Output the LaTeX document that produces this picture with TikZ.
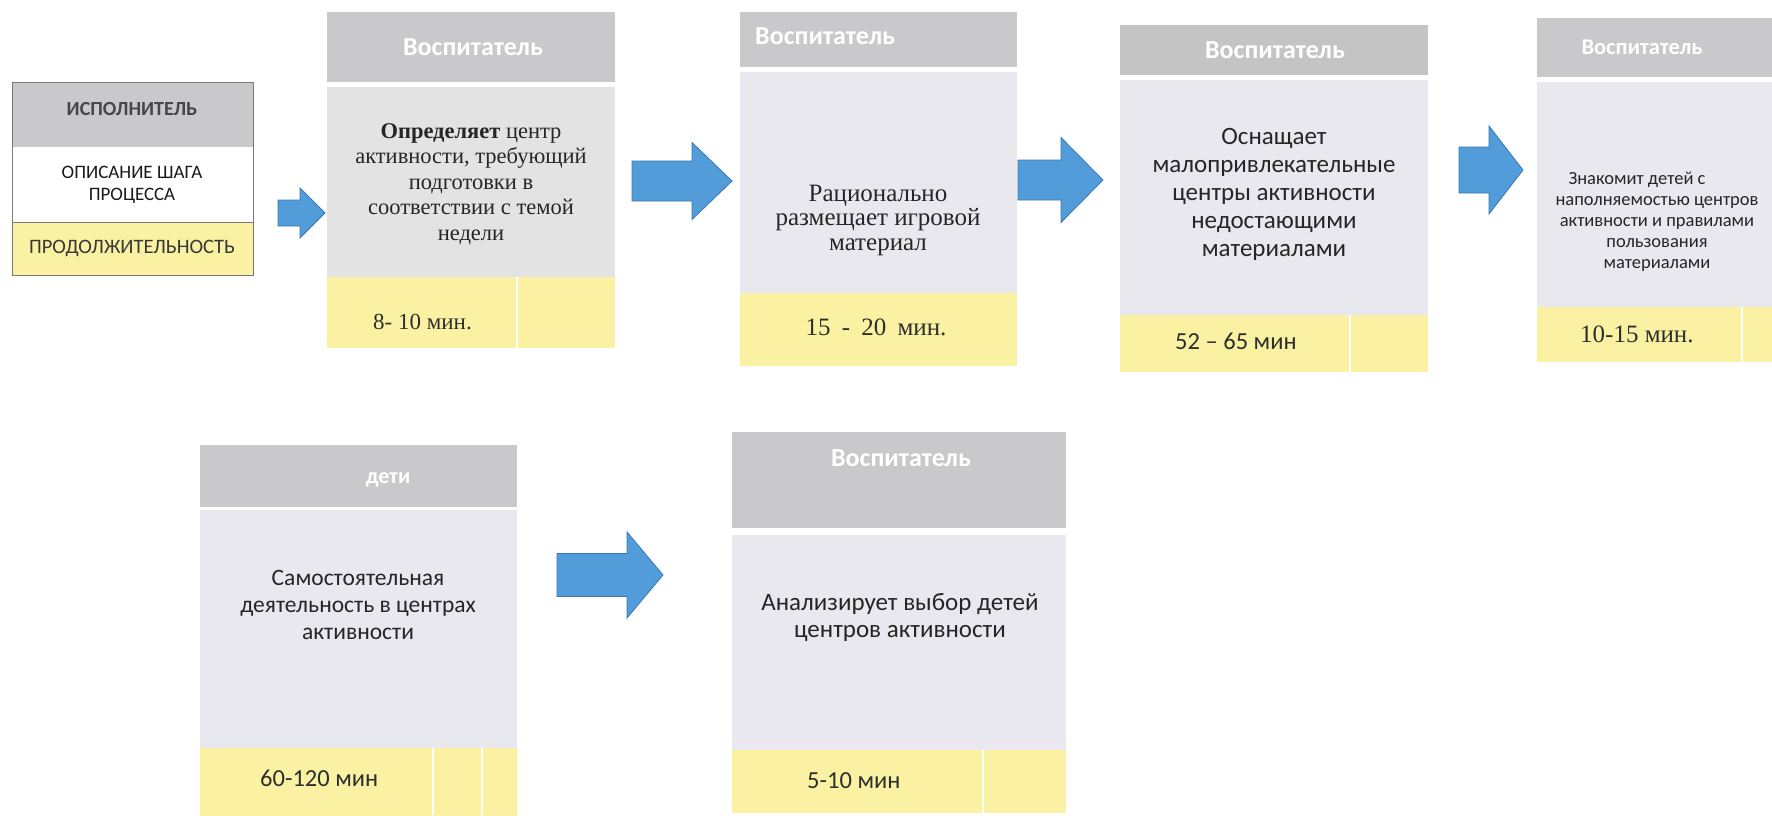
\documentclass[tikz,border=0pt]{standalone}
\usepackage{fontspec}
\setmainfont{Liberation Serif}
\newfontfamily\calfont{Carlito}
\newfontfamily\tnrfont{Liberation Serif}
\definecolor{hdrgray}{HTML}{C9C9CB}
\definecolor{bodygray}{HTML}{E8E8EE}
\definecolor{yell}{HTML}{FAF2A2}
\definecolor{arrfill}{HTML}{529CDA}
\definecolor{arrline}{HTML}{3B78B4}
\definecolor{durtxt}{HTML}{2E2E2E}
\definecolor{legline}{HTML}{7A7A7A}
\tikzset{
  panel/.style={anchor=north west, inner sep=0pt, outer sep=0pt, draw=none},
  hdrbox/.style={panel, fill=hdrgray},
  bodybox/.style={panel, fill=bodygray},
  durbox/.style={panel, fill=yell},
  hdrtxt/.style={font=\calfont\bfseries\fontsize{26}{30}\selectfont, text=white, inner sep=0pt},
  sertxt/.style={font=\tnrfont\fontsize{22.5}{25.5}\selectfont, align=center, inner sep=0pt, text=black!85},
  caltxt/.style={font=\calfont\fontsize{25}{28}\selectfont, align=center, inner sep=0pt, text=black!85},
  durser/.style={font=\tnrfont\fontsize{23}{26}\selectfont, text=durtxt, inner sep=0pt, anchor=west},
  durcal/.style={font=\calfont\fontsize{24.5}{27}\selectfont, text=durtxt, inner sep=0pt, anchor=west},
  colline/.style={white, line width=1.6pt},
  blockarrow/.style={fill=arrfill, draw=arrline, line width=0.8pt, line join=miter},
  legtxt/.style={font=\calfont\fontsize{19}{22}\selectfont, align=center, inner sep=0pt}
}
% shaft left, head base, tip, centre y, shaft half, head half
\newcommand{\bkarrow}[6]{%
  \draw[blockarrow] ({#1},{#4-#5}) -- ({#2},{#4-#5}) -- ({#2},{#4-#6}) -- ({#3},{#4})
    -- ({#2},{#4+#6}) -- ({#2},{#4+#5}) -- ({#1},{#4+#5}) -- cycle;}
\begin{document}
\begin{tikzpicture}[x=1pt,y=-1pt]
\useasboundingbox (0,0) rectangle (1772,815);
\clip (0,0) rectangle (1772,815);
\fill[white] (0,0) rectangle (1772,815);

% ---------- legend ----------
\node[hdrbox, minimum width=241pt, minimum height=65pt] (lgh) at (12,82) {};
\node[panel, fill=white, minimum width=241pt, minimum height=75pt] (lgb) at (12,147) {};
\node[durbox, minimum width=241pt, minimum height=53pt] (lgd) at (12,222) {};
\draw[legline, line width=0.9pt] (lgh.north west) rectangle (lgd.south east);
\draw[legline, line width=0.6pt] (lgb.south west) -- (lgb.south east);
\node[legtxt, font=\calfont\bfseries\fontsize{20}{22}\selectfont, text=black!72] (lgt1) at (132,109) {ИСПОЛНИТЕЛЬ};
\node[legtxt, text=black!90] (lgt2) at (132,185) {ОПИСАНИЕ ШАГА\\ПРОЦЕССА};
\node[legtxt, font=\calfont\fontsize{20.5}{22}\selectfont, text=black!78] (lgt3) at (132,248) {ПРОДОЛЖИТЕЛЬНОСТЬ};

% ---------- box 1 ----------
\node[hdrbox, minimum width=288pt, minimum height=70pt] (b1h) at (327,12) {};
\node[bodybox, fill=black!11, minimum width=288pt, minimum height=190pt] (b1b) at (327,87) {};
\node[durbox, minimum width=288pt, minimum height=71pt] (b1d) at (327,277) {};
\draw[colline] (517,277) -- (517,348);
\node[hdrtxt] (b1ht) at (473,47) {Воспитатель};
\node[sertxt] (b1t) at (471,184) {\textbf{Определяет} центр\\активности, требующий\\подготовки в\\соответствии с темой\\недели};
\node[durser] (b1dt) at (373,322) {8- 10 мин.};

% ---------- box 2 ----------
\node[hdrbox, minimum width=277pt, minimum height=55pt] (b2h) at (740,12) {};
\node[bodybox, minimum width=277pt, minimum height=221pt] (b2b) at (740,72) {};
\node[durbox, minimum width=277pt, minimum height=73pt] (b2d) at (740,293) {};
\node[hdrtxt, anchor=west] (b2ht) at (755,36) {Воспитатель};
\node[sertxt, font=\tnrfont\fontsize{25}{24.5}\selectfont] (b2t) at (878,220) {Рационально\\размещает игровой\\материал};
\node[durser, font=\tnrfont\fontsize{25}{27}\selectfont, anchor=center] (b2dt) at (876,327) {15\hspace{0.45em}-\hspace{0.45em}20\hspace{0.45em}мин.};

% ---------- box 3 ----------
\node[hdrbox, fill=black!23, minimum width=308pt, minimum height=50pt] (b3h) at (1120,25) {};
\node[bodybox, minimum width=308pt, minimum height=235pt] (b3b) at (1120,80) {};
\node[durbox, minimum width=308pt, minimum height=57pt] (b3d) at (1120,315) {};
\draw[colline] (1350,315) -- (1350,372);
\node[hdrtxt] (b3ht) at (1275,50) {Воспитатель};
\node[caltxt] (b3t) at (1274,194) {Оснащает\\малопривлекательные\\центры активности\\недостающими\\материалами};
\node[durcal] (b3dt) at (1175,341) {52 – 65 мин};

% ---------- box 4 ----------
\node[hdrbox, minimum width=263pt, minimum height=59pt] (b4h) at (1537,18) {};
\node[bodybox, minimum width=263pt, minimum height=225pt] (b4b) at (1537,82) {};
\node[durbox, minimum width=263pt, minimum height=55pt] (b4d) at (1537,307) {};
\draw[colline] (1742,307) -- (1742,362);
\node[hdrtxt, font=\calfont\bfseries\fontsize{22.5}{26}\selectfont] (b4ht) at (1642,47) {Воспитатель};
\node[caltxt, font=\calfont\fontsize{18.5}{21}\selectfont] (b4t) at (1657,222) {Знакомит детей с\hspace*{40pt}\\наполняемостью центров\\активности и правилами\\пользования\\материалами};
\node[durser, font=\tnrfont\fontsize{25}{27}\selectfont] (b4dt) at (1580,334) {10-15 мин.};

% ---------- box 5 ----------
\node[hdrbox, minimum width=317pt, minimum height=62pt] (b5h) at (200,445) {};
\node[bodybox, minimum width=317pt, minimum height=238pt] (b5b) at (200,510) {};
\node[durbox, minimum width=317pt, minimum height=72pt] (b5d) at (200,748) {};
\draw[colline] (433,748) -- (433,815);
\draw[colline] (482,748) -- (482,815);
\node[hdrtxt, font=\calfont\bfseries\fontsize{22}{26}\selectfont] (b5ht) at (388,480) {дети};
\node[caltxt, font=\calfont\fontsize{23.5}{27}\selectfont] (b5t) at (358,605) {Самостоятельная\\деятельность в центрах\\активности};
\node[durcal] (b5dt) at (260,778) {60-120 мин};

% ---------- box 6 ----------
\node[hdrbox, minimum width=334pt, minimum height=96pt] (b6h) at (732,432) {};
\node[bodybox, minimum width=334pt, minimum height=215pt] (b6b) at (732,535) {};
\node[durbox, minimum width=334pt, minimum height=63pt] (b6d) at (732,750) {};
\draw[colline] (983,750) -- (983,813);
\node[hdrtxt] (b6ht) at (901,458) {Воспитатель};
\node[caltxt, font=\calfont\fontsize{25}{27}\selectfont] (b6t) at (900,618) {Анализирует выбор детей\\центров активности};
\node[durcal] (b6dt) at (807,781) {5-10 мин};

% ---------- arrows ----------
\bkarrow{278}{300}{325}{213}{13}{25}
\bkarrow{632}{692}{732}{181}{20}{38.5}
\bkarrow{1018}{1061}{1103}{180}{20}{42.5}
\bkarrow{1459}{1489}{1523}{170}{23}{44}
\bkarrow{557}{627}{663}{575}{21.5}{43}
\end{tikzpicture}
\end{document}
